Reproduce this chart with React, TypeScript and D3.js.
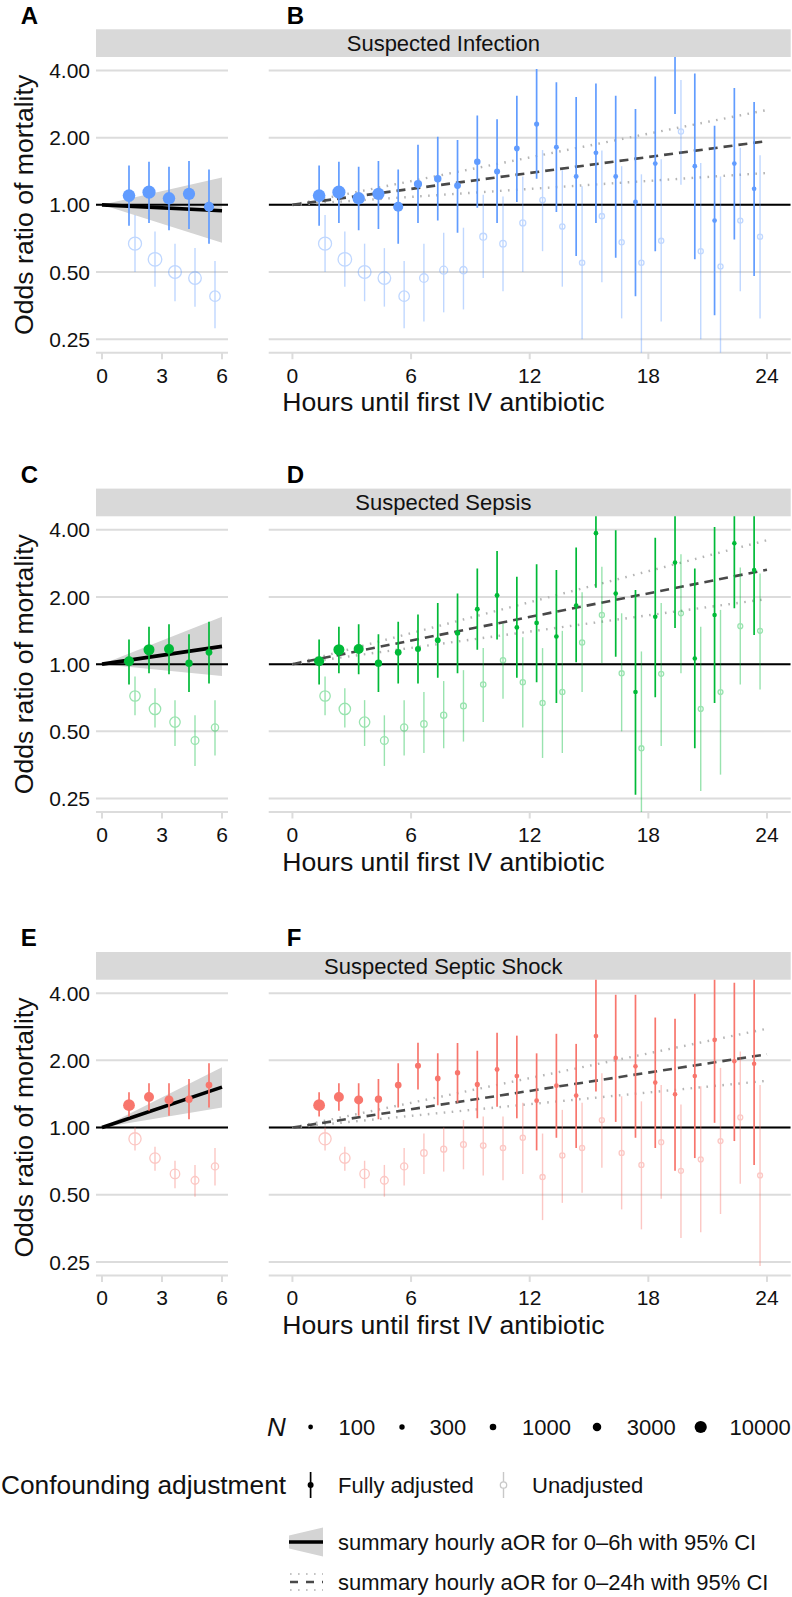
import React from 'react';
import * as d3 from 'd3';

const FONT = '"Liberation Sans", Arial, Helvetica, sans-serif';

// ---------- categories / bins ----------
const CATEGORIES = ['Suspected Infection', 'Suspected Sepsis', 'Suspected Septic Shock'];
const COLORS = ['#619CFF', '#00BA38', '#F8766D'];
const TAGS = [['A', 'B'], ['C', 'D'], ['E', 'F']];
const BIN_START = [1, 2, 3, 4, 5, 6, 7, 8, 9, 10, 11, 12, 13, 14, 15, 16, 17, 18, 19, 20, 21, 22, 23];
const Y_TICKS = [0.25, 0.5, 1, 2, 4];
const Y_TICK_LABELS = ['0.25', '0.50', '1.00', '2.00', '4.00'];
const X_TICKS_6 = [0, 3, 6];
const X_TICKS_24 = [0, 6, 12, 18, 24];
const N_BREAKS = [100, 300, 1000, 3000, 10000];

// ---------- Suspected infection ----------
const INF_N = [11000, 12500, 10500, 10000, 5500, 2600, 1800, 1200, 950, 650, 400, 200, 150, 130, 120, 110, 100, 95, 90, 85, 80, 75, 70];
const INF_ADJ_OR = [1.10, 1.14, 1.07, 1.12, 0.98, 1.24, 1.31, 1.22, 1.56, 1.41, 1.79, 2.30, 1.81, 1.34, 1.71, 1.34, 1.03, 1.53, 4.8, 1.49, 0.85, 1.53, 1.18];
const INF_ADJ_LO = [0.806, 0.83, 0.77, 0.78, 0.67, 0.83, 0.85, 0.75, 0.97, 0.83, 1.03, 1.31, 0.93, 0.59, 0.83, 0.58, 0.39, 0.62, 2.55, 0.57, 0.32, 0.70, 0.48];
const INF_ADJ_HI = [1.50, 1.56, 1.48, 1.57, 1.44, 1.86, 2.02, 1.95, 2.51, 2.42, 3.08, 4.06, 3.54, 3.04, 3.50, 3.08, 2.69, 3.76, 9.0, 3.88, 2.26, 3.34, 2.89];
const INF_UNADJ_OR = [0.67, 0.57, 0.50, 0.47, 0.39, 0.47, 0.51, 0.51, 0.72, 0.67, 0.83, 1.05, 0.80, 0.55, 0.89, 0.68, 0.55, 0.69, 2.13, 0.62, 0.53, 0.85, 0.72];
const INF_UNADJ_LO = [0.50, 0.43, 0.37, 0.35, 0.28, 0.30, 0.33, 0.34, 0.47, 0.41, 0.50, 0.62, 0.43, 0.25, 0.45, 0.31, 0.20, 0.30, 1.23, 0.25, 0.20, 0.41, 0.31];
const INF_UNADJ_HI = [0.90, 0.76, 0.67, 0.64, 0.56, 0.67, 0.75, 0.79, 1.11, 1.09, 1.34, 1.76, 1.43, 1.21, 1.75, 1.49, 1.37, 1.60, 3.62, 1.54, 1.34, 1.80, 1.67];
const INF_SUM6 = [0.990, 0.937, 1.048];   // hourly aOR, lower, upper
const INF_SUM24 = [1.0278, 1.0138, 1.0416];

// ---------- Suspected sepsis ----------
const SEP_N = [5400, 7300, 5400, 1700, 1150, 650, 480, 300, 140, 120, 100, 90, 85, 80, 75, 70, 65, 60, 55, 50, 50, 45, 45];
const SEP_ADJ_OR = [1.03, 1.16, 1.17, 1.01, 1.13, 1.17, 1.28, 1.38, 1.76, 2.03, 1.46, 1.53, 1.33, 1.83, 3.86, 2.07, 0.75, 1.63, 2.85, 1.06, 1.66, 3.48, 2.64];
const SEP_ADJ_LO = [0.81, 0.91, 0.90, 0.75, 0.82, 0.82, 0.87, 0.91, 1.16, 1.29, 0.87, 0.83, 0.67, 1.02, 2.20, 1.08, 0.26, 0.71, 1.45, 0.42, 0.67, 1.78, 1.35];
const SEP_ADJ_HI = [1.29, 1.47, 1.51, 1.36, 1.55, 1.67, 1.88, 2.07, 2.68, 3.21, 2.46, 2.80, 2.64, 3.33, 7.0, 3.98, 2.15, 3.68, 6.0, 2.68, 4.12, 7.0, 5.5];
const SEP_UNADJ_OR = [0.72, 0.63, 0.55, 0.455, 0.52, 0.54, 0.59, 0.65, 0.81, 1.04, 0.83, 0.67, 0.75, 1.25, 1.66, 0.91, 0.42, 0.905, 1.69, 0.63, 0.75, 1.48, 1.41];
const SEP_UNADJ_LO = [0.59, 0.52, 0.43, 0.35, 0.39, 0.40, 0.42, 0.45, 0.55, 0.70, 0.52, 0.38, 0.40, 0.75, 1.01, 0.50, 0.20, 0.43, 0.91, 0.27, 0.32, 0.81, 0.77];
const SEP_UNADJ_HI = [0.88, 0.78, 0.69, 0.59, 0.69, 0.75, 0.84, 0.94, 1.18, 1.52, 1.32, 1.18, 1.41, 2.10, 2.73, 1.69, 1.14, 1.88, 3.11, 1.47, 1.75, 2.71, 2.55];
const SEP_SUM6 = [1.031, 0.980, 1.085];
const SEP_SUM24 = [1.0414, 1.0284, 1.0547];

// ---------- Suspected septic shock ----------
const SHK_N = [9000, 5400, 3800, 1700, 1150, 650, 420, 300, 200, 130, 110, 100, 90, 80, 75, 70, 65, 60, 55, 50, 50, 45, 45];
const SHK_ADJ_OR = [1.26, 1.37, 1.33, 1.34, 1.55, 1.89, 1.66, 1.76, 1.56, 1.82, 1.70, 1.32, 1.54, 1.39, 2.57, 2.05, 1.88, 1.59, 1.41, 1.70, 2.47, 1.98, 1.93];
const SHK_ADJ_LO = [1.12, 1.19, 1.13, 1.09, 1.23, 1.48, 1.26, 1.29, 1.10, 1.24, 1.10, 0.79, 0.90, 0.81, 1.45, 1.06, 0.90, 0.81, 0.64, 0.73, 1.05, 0.87, 0.68];
const SHK_ADJ_HI = [1.44, 1.58, 1.58, 1.65, 1.94, 2.40, 2.15, 2.39, 2.21, 2.66, 2.58, 2.15, 2.63, 2.37, 6.0, 3.93, 3.93, 3.11, 3.07, 3.97, 6.0, 4.45, 6.0];
const SHK_UNADJ_OR = [0.89, 0.73, 0.62, 0.58, 0.67, 0.77, 0.80, 0.84, 0.83, 0.81, 0.90, 0.60, 0.75, 0.81, 1.08, 0.77, 0.68, 0.86, 0.64, 0.72, 0.87, 1.11, 0.61];
const SHK_UNADJ_LO = [0.79, 0.64, 0.535, 0.49, 0.55, 0.62, 0.635, 0.65, 0.61, 0.58, 0.62, 0.385, 0.46, 0.51, 0.66, 0.43, 0.35, 0.48, 0.32, 0.34, 0.41, 0.56, 0.24];
const SHK_UNADJ_HI = [1.00, 0.82, 0.71, 0.68, 0.81, 0.94, 1.00, 1.08, 1.12, 1.12, 1.29, 0.94, 1.20, 1.29, 1.75, 1.38, 1.31, 1.55, 1.27, 1.53, 1.85, 2.19, 1.55];
const SHK_SUM6 = [1.072, 1.035, 1.109];
const SHK_SUM24 = [1.032, 1.0203, 1.0434];

const SERIES = [
  { n: INF_N, adj: [INF_ADJ_OR, INF_ADJ_LO, INF_ADJ_HI], unadj: [INF_UNADJ_OR, INF_UNADJ_LO, INF_UNADJ_HI], s6: INF_SUM6, s24: INF_SUM24 },
  { n: SEP_N, adj: [SEP_ADJ_OR, SEP_ADJ_LO, SEP_ADJ_HI], unadj: [SEP_UNADJ_OR, SEP_UNADJ_LO, SEP_UNADJ_HI], s6: SEP_SUM6, s24: SEP_SUM24 },
  { n: SHK_N, adj: [SHK_ADJ_OR, SHK_ADJ_LO, SHK_ADJ_HI], unadj: [SHK_UNADJ_OR, SHK_UNADJ_LO, SHK_UNADJ_HI], s6: SHK_SUM6, s24: SHK_SUM24 },
];

// ---------- layout ----------
const ROW_DY = [0, 459.3, 922.7];
const TAG_Y = 15;
const STRIP_TOP = 29.3;
const PANEL_TOP = 57;
const PANEL_BOT = 352.7;
const TICKLAB_Y = 375;
const XTITLE_Y = 401.7;
const PANEL_A = [96, 228];
const PANEL_B = [268.7, 790.7];
const DODGE = 0.15;

const GRID = '#dcdcdc';
const rScale = d3.scaleSqrt().domain([100, 10000]).range([2.4, 6.1]);
const yDomain = [Math.pow(2, -2.2), Math.pow(2, 2.2)];

function Panel({ row, wide }: { row: number; wide: boolean }) {
  const dy = ROW_DY[row];
  const [x0, x1] = wide ? PANEL_B : PANEL_A;
  const xmax = wide ? 24 : 6;
  const pad = xmax * 0.05;
  const x = d3.scaleLinear().domain([-pad, xmax + pad]).range([x0, x1]);
  const y = d3.scaleLog().base(2).domain(yDomain).range([PANEL_BOT + dy, PANEL_TOP + dy]);
  const ticks = wide ? X_TICKS_24 : X_TICKS_6;
  const s = SERIES[row];
  const col = COLORS[row];
  const nb = wide ? BIN_START.length : 5;
  const idx = d3.range(nb);
  const clipId = `clip-${row}-${wide ? 'b' : 'a'}`;
  const line = d3.line<number[]>().x((d) => x(d[0])).y((d) => y(d[1]));
  const area = d3.area<number[]>().x((d) => x(d[0])).y0((d) => y(d[1])).y1((d) => y(d[2]));
  const ts = [0, xmax];
  const sum = wide ? s.s24 : s.s6;
  const pb = PANEL_BOT + dy;
  return (
    <g>
      <defs>
        <clipPath id={clipId}>
          <rect x={x0} y={PANEL_TOP + dy} width={x1 - x0} height={PANEL_BOT - PANEL_TOP} />
        </clipPath>
      </defs>
      {Y_TICKS.map((v) => (
        <line key={v} x1={x0} x2={x1} y1={y(v)} y2={y(v)} stroke={GRID} strokeWidth={2} />
      ))}
      {/* x axis */}
      <line x1={x0} x2={x1} y1={pb} y2={pb} stroke={GRID} strokeWidth={2} />
      {ticks.map((t) => (
        <g key={t}>
          <line x1={x(t)} x2={x(t)} y1={pb} y2={pb + 6.5} stroke={GRID} strokeWidth={2} />
          <text x={x(t)} y={TICKLAB_Y + dy} dy="0.36em" textAnchor="middle" fontSize={21} fill="#111">
            {t}
          </text>
        </g>
      ))}
      {!wide &&
        Y_TICKS.map((v, i) => (
          <text key={v} x={90} y={y(v)} dy="0.36em" textAnchor="end" fontSize={21} fill="#111">
            {Y_TICK_LABELS[i]}
          </text>
        ))}
      <g clipPath={`url(#${clipId})`}>
        {!wide && (
          <path
            d={area(ts.map((t) => [t, Math.pow(sum[1], t), Math.pow(sum[2], t)])) || ''}
            fill="#d4d4d4"
          />
        )}
        <line x1={x0} x2={x1} y1={y(1)} y2={y(1)} stroke="#000" strokeWidth={2} />
        {!wide && (
          <path d={line(ts.map((t) => [t, Math.pow(sum[0], t)])) || ''} stroke="#000" strokeWidth={3.6} fill="none" />
        )}
        {wide && (
          <g>
            <path d={line(ts.map((t) => [t, Math.pow(sum[1], t)])) || ''} stroke="#b5b5b5" strokeWidth={2.4} strokeDasharray="1.6,6.4" fill="none" />
            <path d={line(ts.map((t) => [t, Math.pow(sum[2], t)])) || ''} stroke="#b5b5b5" strokeWidth={2.4} strokeDasharray="1.6,6.4" fill="none" />
            <path d={line(ts.map((t) => [t, Math.pow(sum[0], t)])) || ''} stroke="#4a4a4a" strokeWidth={2.6} strokeDasharray="9,6" fill="none" />
          </g>
        )}
        {/* unadjusted */}
        <g opacity={0.4}>
          {idx.map((i) => {
            const cx = x(BIN_START[i] + 0.5 + DODGE);
            return (
              <g key={i}>
                <line x1={cx} x2={cx} y1={y(s.unadj[1][i])} y2={y(s.unadj[2][i])} stroke={col} strokeWidth={1.4} />
                <circle cx={cx} cy={y(s.unadj[0][i])} r={rScale(s.n[i]) + 0.2} fill="#fff" fillOpacity={0} stroke={col} strokeWidth={1.3} />
              </g>
            );
          })}
        </g>
        {/* adjusted */}
        {idx.map((i) => {
          const cx = x(BIN_START[i] + 0.5 - DODGE);
          return (
            <g key={i}>
              <line x1={cx} x2={cx} y1={y(s.adj[1][i])} y2={y(s.adj[2][i])} stroke={col} strokeWidth={1.7} />
              <circle cx={cx} cy={y(s.adj[0][i])} r={rScale(s.n[i])} fill={col} />
            </g>
          );
        })}
      </g>
    </g>
  );
}

function Row({ row }: { row: number }) {
  const dy = ROW_DY[row];
  return (
    <g>
      <text x={20.7} y={TAG_Y + dy} dy="0.36em" fontSize={24} fontWeight="bold" fill="#000">
        {TAGS[row][0]}
      </text>
      <text x={286.7} y={TAG_Y + dy} dy="0.36em" fontSize={24} fontWeight="bold" fill="#000">
        {TAGS[row][1]}
      </text>
      <rect x={PANEL_A[0]} y={STRIP_TOP + dy} width={PANEL_B[1] - PANEL_A[0]} height={PANEL_TOP - STRIP_TOP} fill="#d9d9d9" />
      <text x={(PANEL_A[0] + PANEL_B[1]) / 2} y={(STRIP_TOP + PANEL_TOP) / 2 + dy} dy="0.36em" textAnchor="middle" fontSize={22} fill="#111">
        {CATEGORIES[row]}
      </text>
      <Panel row={row} wide={false} />
      <Panel row={row} wide={true} />
      <text
        transform={`translate(23.5,${(PANEL_TOP + PANEL_BOT) / 2 + dy}) rotate(-90)`}
        dy="0.36em"
        textAnchor="middle"
        fontSize={26.6}
        fill="#111"
      >
        Odds ratio of mortality
      </text>
      <text x={(PANEL_A[0] + PANEL_B[1]) / 2} y={XTITLE_Y + dy} dy="0.36em" textAnchor="middle" fontSize={26.6} fill="#111">
        Hours until first IV antibiotic
      </text>
    </g>
  );
}

const LEG_N_Y = 1427;
const LEG_C_Y = 1485;
const LEG_S6_Y = 1542;
const LEG_S24_Y = 1582;
const LEG_N_KEY_X = [310.6, 402, 493, 597, 700.7];
const LEG_N_LAB_X = [338.6, 429.5, 522, 626.8, 729.5];

function Legend() {
  return (
    <g fill="#111">
      <text x={267} y={LEG_N_Y} dy="0.36em" fontSize={26} fontStyle="italic">N</text>
      {N_BREAKS.map((n, i) => (
        <g key={n}>
          <circle cx={LEG_N_KEY_X[i]} cy={LEG_N_Y} r={rScale(n)} fill="#000" />
          <text x={LEG_N_LAB_X[i]} y={LEG_N_Y} dy="0.36em" fontSize={22}>{n}</text>
        </g>
      ))}
      <text x={1} y={LEG_C_Y} dy="0.36em" fontSize={26.3}>Confounding adjustment</text>
      <line x1={310.6} x2={310.6} y1={LEG_C_Y - 13} y2={LEG_C_Y + 13} stroke="#000" strokeWidth={1.7} />
      <circle cx={310.6} cy={LEG_C_Y} r={3} fill="#000" />
      <text x={338} y={LEG_C_Y} dy="0.36em" fontSize={22}>Fully adjusted</text>
      <line x1={503.5} x2={503.5} y1={LEG_C_Y - 13} y2={LEG_C_Y + 13} stroke="#c8c8c8" strokeWidth={1.4} />
      <circle cx={503.5} cy={LEG_C_Y} r={3.2} fill="#fff" stroke="#c8c8c8" strokeWidth={1.3} />
      <text x={532} y={LEG_C_Y} dy="0.36em" fontSize={22}>Unadjusted</text>

      <polygon
        points={`289,${LEG_S6_Y - 6.5} 323,${LEG_S6_Y - 14.5} 323,${LEG_S6_Y + 14.5} 289,${LEG_S6_Y + 6.5}`}
        fill="#d4d4d4"
      />
      <line x1={289} x2={323} y1={LEG_S6_Y} y2={LEG_S6_Y} stroke="#000" strokeWidth={3.6} />
      <text x={338} y={LEG_S6_Y} dy="0.36em" fontSize={22}>summary hourly aOR for 0–6h with 95% CI</text>

      <line x1={290} x2={323} y1={LEG_S24_Y - 8} y2={LEG_S24_Y - 8} stroke="#c4c4c4" strokeWidth={2} strokeDasharray="1.6,6.4" />
      <line x1={290} x2={323} y1={LEG_S24_Y} y2={LEG_S24_Y} stroke="#4a4a4a" strokeWidth={2.4} strokeDasharray="8,8" />
      <line x1={290} x2={323} y1={LEG_S24_Y + 8} y2={LEG_S24_Y + 8} stroke="#c4c4c4" strokeWidth={2} strokeDasharray="1.6,6.4" />
      <text x={338} y={LEG_S24_Y} dy="0.36em" fontSize={22}>summary hourly aOR for 0–24h with 95% CI</text>
    </g>
  );
}

export default function App() {
  return (
    <svg
      width={792}
      height={1597}
      viewBox="0 0 792 1597"
      style={{ position: 'absolute', left: 0, top: 0, display: 'block' }}
      fontFamily={FONT}
    >
      <rect width={792} height={1597} fill="#fff" />
      {[0, 1, 2].map((r) => (
        <Row key={r} row={r} />
      ))}
      <Legend />
    </svg>
  );
}
